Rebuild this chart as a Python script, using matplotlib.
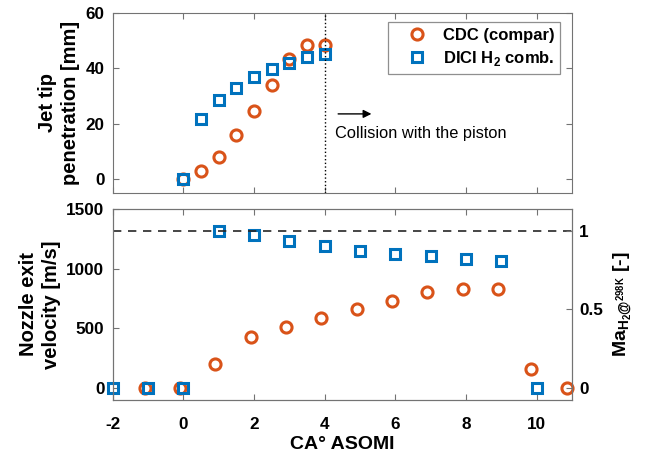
import numpy as np
import matplotlib
matplotlib.use("Agg")
import matplotlib.pyplot as plt

plt.rcParams["font.family"] = ["Liberation Sans", "DejaVu Sans"]
plt.rcParams["mathtext.fontset"] = "custom"
plt.rcParams["mathtext.rm"] = "Liberation Sans"
plt.rcParams["mathtext.bf"] = "Liberation Sans:bold"
plt.rcParams["axes.unicode_minus"] = False

# top panel: jet tip penetration [mm]
pen_cdc_x = [0, 0.5, 1.0, 1.5, 2.0, 2.5, 3.0, 3.5, 4.0]
pen_cdc_y = [0, 2.7, 8.1, 15.7, 24.5, 33.9, 43.4, 48.2, 48.2]
pen_dici_x = [0, 0.5, 1.0, 1.5, 2.0, 2.5, 3.0, 3.5, 4.0]
pen_dici_y = [0, 21.6, 28.6, 33.0, 36.9, 39.6, 42.0, 43.9, 45.1]

# bottom panel: nozzle exit velocity [m/s]
vel_cdc_x = [-1.1, -0.1, 0.9, 1.9, 2.9, 3.9, 4.9, 5.9, 6.9, 7.9, 8.9, 9.85, 10.85]
vel_cdc_y = [0, 0, 203, 425, 511, 586, 658, 727, 800, 827, 827, 158, 0]
vel_dici_x = [-2, -1, 0, 1, 2, 3, 4, 5, 6, 7, 8, 9, 10]
vel_dici_y = [0, 0, 0, 1311, 1278, 1231, 1186, 1147, 1125, 1103, 1078, 1064, 0]

sonic = 1314  # Ma = 1 line

orange = "#D95319"
blue = "#0072BD"
spine_c = "0.45"

fig = plt.figure(figsize=(6.56, 4.58), dpi=100)
ax1 = fig.add_axes([0.172, 0.579, 0.700, 0.393])
ax2 = fig.add_axes([0.172, 0.127, 0.700, 0.417])

ckw = dict(ls="none", marker="o", ms=8, mfc="none", mec=orange, mew=2.2, clip_on=False)
skw = dict(ls="none", marker="s", ms=6.5, mfc="none", mec=blue, mew=2.2, clip_on=False)

ax1.plot(pen_cdc_x, pen_cdc_y, label="CDC (compar)", **ckw)
ax1.plot(pen_dici_x, pen_dici_y, label=r"DICI H$_\mathbf{2}$ comb.", **skw)
ax1.axvline(4, color="black", ls=":", lw=1)
ax1.annotate("", xy=(5.4, 23.5), xytext=(4.3, 23.5),
             arrowprops=dict(arrowstyle="-|>", color="black", lw=1, mutation_scale=12))
ax1.text(4.3, 16.6, "Collision with the piston", fontsize=11.8, va="center", ha="left")
ax1.set_xlim(-2, 11)
ax1.set_ylim(-5, 60)
ax1.set_yticks([0, 20, 40, 60])
ax1.set_xticks([-2, 0, 2, 4, 6, 8, 10])
ax1.tick_params(labelbottom=False)
ax1.set_ylabel("Jet tip\npenetration [mm]", fontsize=14.5, fontweight="bold",
               labelpad=4, linespacing=1.25)
leg = ax1.legend(loc="upper right", prop=dict(weight="bold", size=12),
                 fancybox=False, edgecolor="0.45", handlelength=2.75, handletextpad=0.18,
                 borderpad=0.35, labelspacing=0.4, borderaxespad=0,
                 bbox_to_anchor=(0.974, 0.95))
leg.get_frame().set_linewidth(0.9)

ax2.plot(vel_cdc_x, vel_cdc_y, **ckw)
ax2.plot(vel_dici_x, vel_dici_y, **skw)
ax2.axhline(sonic, color="0.15", ls=(0, (5, 4)), lw=1.2)
ax2.set_xlim(-2, 11)
ax2.set_ylim(-100, 1500)
ax2.set_yticks([0, 500, 1000, 1500])
ax2.set_xticks([-2, 0, 2, 4, 6, 8, 10])
ax2.set_xlabel("CA° ASOMI", fontsize=14, fontweight="bold", labelpad=3)
ax2.set_ylabel("Nozzle exit\nvelocity [m/s]", fontsize=14.5, fontweight="bold",
               labelpad=4, linespacing=1.25)

ax3 = ax2.twinx()
ax3.set_ylim(-100 / sonic, 1500 / sonic)
ax3.set_yticks([0, 0.5, 1])
ax3.set_yticklabels(["0", "0.5", "1"])
ax3.set_ylabel(r"$\mathbf{Ma_{H_2@^{298K}}}$ [-]", fontsize=14, fontweight="bold", labelpad=6)

for ax in (ax1, ax2, ax3):
    for s in ax.spines.values():
        s.set_color(spine_c)
        s.set_linewidth(0.8)
    ax.tick_params(direction="in", length=4, color=spine_c, labelsize=12.3, width=0.8, pad=6)
    for lab in ax.get_xticklabels() + ax.get_yticklabels():
        lab.set_fontweight("bold")
ax1.tick_params(top=True, right=True)
ax2.tick_params(top=True)
ax2.tick_params(axis="x", pad=12)
ax3.tick_params(right=True, pad=5)

fig.savefig("out.png", dpi=100)
